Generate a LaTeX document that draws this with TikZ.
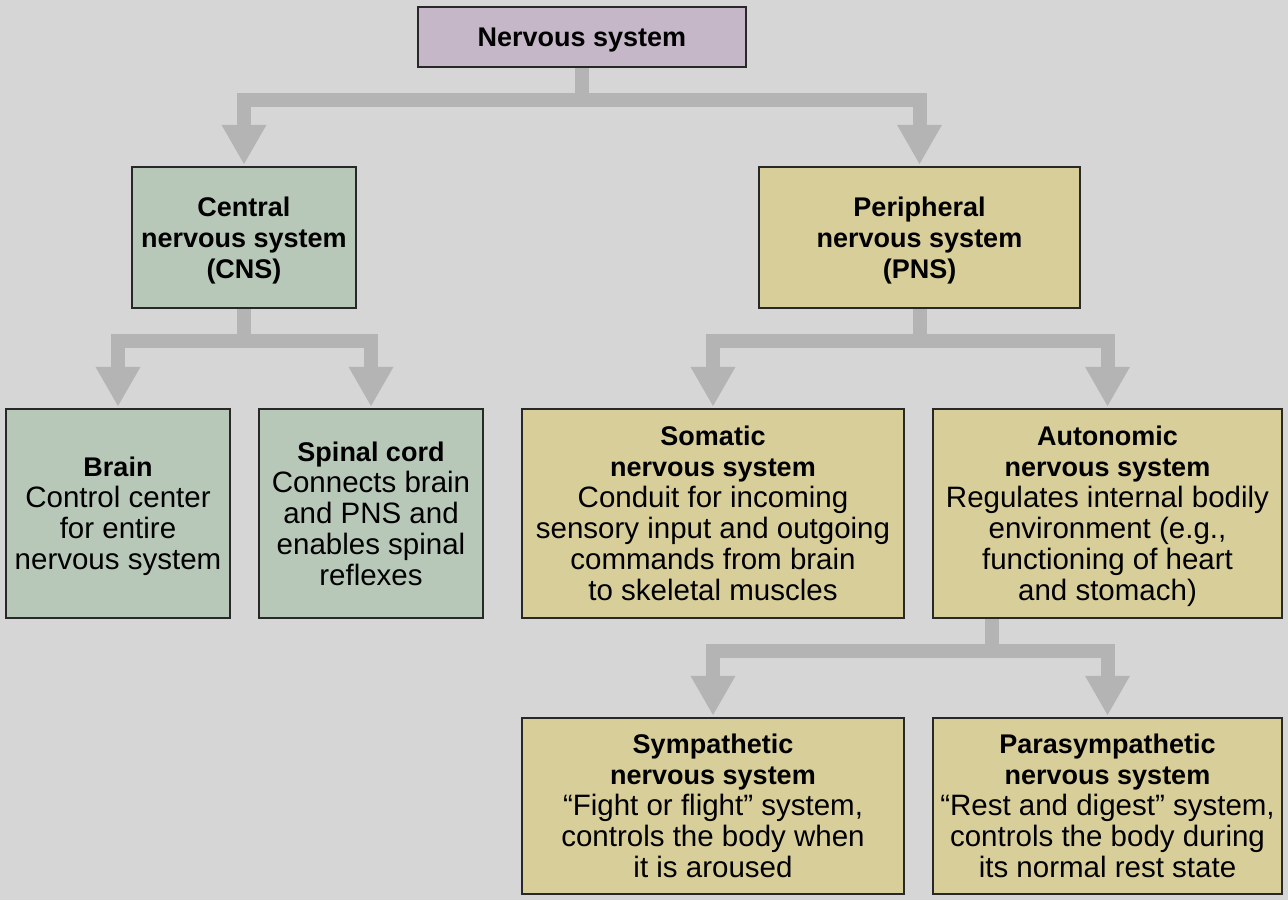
\documentclass[tikz,border=0pt]{standalone}
\usepackage{fontspec}
\setmainfont{Liberation Sans}
\usetikzlibrary{arrows.meta,calc}
\definecolor{bgc}{RGB}{214,214,214}
\definecolor{purp}{RGB}{197,182,200}
\definecolor{grn}{RGB}{184,200,184}
\definecolor{yel}{RGB}{216,206,154}
\definecolor{connc}{RGB}{180,180,180}
\definecolor{edgec}{RGB}{40,40,40}
\newcommand{\hd}[1]{{\fontsize{27}{31}\selectfont\bfseries #1}}
\begin{document}
\begin{tikzpicture}[x=1pt,y=-1pt,
  box/.style={draw=edgec, line width=2.5pt, inner sep=0pt, align=center,
    text depth=0pt, font=\fontsize{29.5}{31}\selectfont},
  arr/.style={draw=connc, line width=14pt, line join=miter,
    -{Triangle[width=42pt,length=40pt]}, shorten >=1pt}]
\fill[bgc] (0,0) rectangle (1288,900);
\useasboundingbox (0,0) rectangle (1288,900);

\node[box, fill=purp, minimum width=328pt, minimum height=60pt] (ns) at (582,37) {\hd{Nervous system}};
\node[box, fill=grn, minimum width=224pt, minimum height=141pt] (cns) at (244,237.5) {\hd{Central}\\\hd{nervous system}\\\hd{(CNS)}};
\node[box, fill=yel, minimum width=321pt, minimum height=141pt] (pns) at (919.5,237.5) {\hd{Peripheral}\\\hd{nervous system}\\\hd{(PNS)}};
\node[box, fill=grn, minimum width=224pt, minimum height=209pt] (brain) at (118,513.5) {\hd{Brain}\\Control center\\for entire\\nervous system};
\node[box, fill=grn, minimum width=224pt, minimum height=209pt] (spinal) at (371,513.5) {\hd{Spinal cord}\\Connects brain\\and PNS and\\enables spinal\\reflexes};
\node[box, fill=yel, minimum width=382pt, minimum height=209pt] (som) at (713,513.5) {\hd{Somatic}\\\hd{nervous system}\\Conduit for incoming\\sensory input and outgoing\\commands from brain\\to skeletal muscles};
\node[box, fill=yel, minimum width=349pt, minimum height=209pt] (aut) at (1107.5,513.5) {\hd{Autonomic}\\\hd{nervous system}\\Regulates internal bodily\\environment (e.g.,\\functioning of heart\\and stomach)};
\node[box, fill=yel, minimum width=382pt, minimum height=176pt] (sym) at (713,806) {\hd{Sympathetic}\\\hd{nervous system}\\“Fight or flight” system,\\controls the body when\\it is aroused};
\node[box, fill=yel, minimum width=349pt, minimum height=176pt] (para) at (1107.5,806) {\hd{Parasympathetic}\\\hd{nervous system}\\“Rest and digest” system,\\controls the body during\\its normal rest state};

\coordinate (autstem) at ($(aut.south)+(-115.5,0)$);

\draw[arr] (ns.south) -- ++(0,31.5) -| (cns.north);
\draw[arr] (ns.south) -- ++(0,31.5) -| (pns.north);
\draw[arr] (cns.south) -- ++(0,32) -| (brain.north);
\draw[arr] (cns.south) -- ++(0,32) -| (spinal.north);
\draw[arr] (pns.south) -- ++(0,32) -| (som.north);
\draw[arr] (pns.south) -- ++(0,32) -| (aut.north);
\draw[arr] (autstem) -- ++(0,32) -| (sym.north);
\draw[arr] (autstem) -- ++(0,32) -| (para.north);
\end{tikzpicture}
\end{document}
